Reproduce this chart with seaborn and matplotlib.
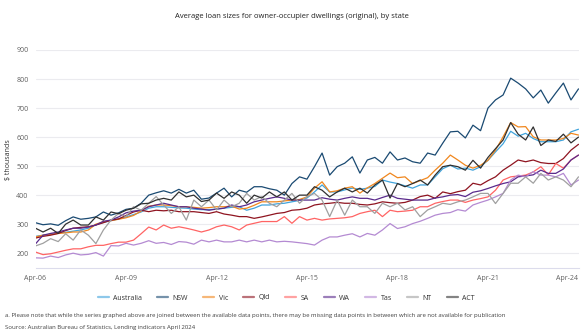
import matplotlib
matplotlib.use("Agg")
import matplotlib.pyplot as plt
import matplotlib.dates as mdates
import seaborn as sns
import pandas as pd

# Quarterly observations, Apr-2006 to Apr-2024 ($ thousands)
dates = pd.date_range("2006-04-01", periods=73, freq="3MS")

australia = [258, 262, 265, 270, 272, 276, 280, 286, 298, 306, 312, 318,
             325, 333, 342, 355, 360, 360, 358, 356, 355, 352, 350, 350,
             352, 355, 358, 360, 348, 355, 366, 366, 370, 372, 377, 382,
             390, 411, 435, 411, 411, 418, 424, 420, 424, 430, 452, 445,
             440, 432, 424, 435, 435, 463, 491, 503, 490, 493, 486, 498,
             520, 549, 577, 620, 603, 613, 595, 584, 584, 584, 590, 618, 627]
nsw = [305, 298, 301, 296, 312, 325, 317, 320, 325, 342, 331, 339,
       351, 355, 372, 400, 408, 415, 407, 420, 407, 417, 386, 390,
       407, 424, 394, 417, 410, 429, 429, 422, 417, 400, 440, 463,
       455, 498, 545, 469, 498, 510, 532, 476, 521, 530, 510, 549,
       521, 528, 515, 510, 545, 538, 579, 618, 620, 597, 641, 622,
       700, 728, 745, 803, 786, 766, 735, 762, 717, 752, 786, 728, 766]
vic = [256, 262, 265, 268, 270, 273, 273, 280, 300, 308, 312, 317,
       322, 330, 345, 362, 366, 366, 364, 360, 360, 358, 355, 357,
       360, 360, 362, 352, 355, 365, 377, 377, 377, 380, 383, 385,
       394, 424, 446, 411, 415, 424, 429, 407, 425, 440, 458, 476,
       460, 463, 440, 450, 460, 486, 510, 538, 521, 503, 493, 503,
       520, 555, 601, 650, 635, 636, 601, 590, 590, 590, 595, 613, 607]
qld = [252, 258, 262, 268, 278, 286, 289, 291, 297, 305, 314, 318,
       330, 342, 348, 343, 348, 346, 348, 343, 343, 343, 340, 337,
       343, 335, 331, 326, 326, 320, 325, 331, 337, 340, 348, 350,
       355, 366, 370, 372, 375, 372, 372, 368, 366, 370, 377, 374,
       372, 375, 383, 395, 400, 389, 411, 405, 412, 417, 441, 435,
       450, 463, 486, 503, 521, 515, 521, 512, 509, 509, 526, 555, 575]
sa = [204, 195, 198, 204, 210, 215, 215, 222, 227, 227, 233, 238,
      238, 245, 267, 290, 280, 297, 286, 291, 286, 280, 273, 280,
      291, 297, 291, 280, 297, 303, 309, 309, 309, 326, 303, 326,
      314, 320, 314, 318, 320, 322, 326, 337, 343, 348, 326, 348,
      343, 345, 348, 360, 360, 372, 378, 383, 383, 375, 383, 388,
      394, 417, 452, 463, 466, 469, 480, 498, 470, 509, 493, 521, 538]
wa = [232, 262, 268, 273, 280, 286, 286, 290, 297, 310, 314, 325,
      339, 345, 348, 360, 366, 372, 366, 360, 360, 355, 352, 348,
      352, 355, 366, 360, 366, 377, 383, 389, 394, 389, 383, 383,
      383, 383, 391, 386, 383, 389, 394, 389, 389, 383, 392, 400,
      389, 386, 383, 383, 383, 390, 394, 400, 402, 395, 410, 415,
      423, 432, 440, 446, 463, 466, 470, 486, 475, 475, 490, 521, 538]
tas = [184, 183, 190, 185, 194, 200, 194, 196, 202, 190, 226, 225,
       234, 228, 234, 243, 234, 237, 230, 240, 238, 231, 245, 239,
       245, 239, 239, 245, 239, 245, 239, 245, 239, 241, 239, 236,
       233, 228, 245, 256, 256, 262, 267, 256, 268, 262, 280, 302,
       285, 291, 302, 310, 320, 331, 337, 340, 350, 345, 366, 375,
       383, 394, 406, 452, 469, 463, 481, 469, 469, 463, 475, 435, 452]
nt = [225, 234, 250, 240, 267, 245, 280, 262, 233, 280, 314, 337,
      326, 360, 348, 372, 395, 366, 337, 360, 314, 383, 360, 383,
      349, 383, 360, 372, 406, 383, 395, 372, 360, 383, 406, 372,
      395, 406, 383, 326, 383, 331, 383, 360, 360, 337, 372, 360,
      372, 349, 360, 326, 349, 360, 372, 368, 377, 383, 394, 406,
      406, 371, 406, 441, 441, 463, 441, 475, 452, 463, 452, 429, 463]
act = [286, 273, 286, 268, 300, 314, 297, 297, 325, 314, 342, 336,
       348, 355, 370, 372, 383, 389, 383, 411, 394, 400, 378, 383,
       407, 389, 411, 400, 372, 400, 390, 411, 394, 411, 383, 400,
       400, 429, 417, 394, 411, 424, 411, 424, 407, 435, 452, 390,
       440, 429, 440, 452, 435, 469, 498, 503, 498, 486, 520, 493,
       530, 560, 590, 650, 610, 590, 635, 571, 590, 585, 610, 580, 600]

states = ["Australia", "NSW", "Vic", "Qld", "SA", "WA", "Tas", "NT", "ACT"]
series = [australia, nsw, vic, qld, sa, wa, tas, nt, act]
colors = ["#41a4dc", "#1a4a72", "#f0871e", "#8f1420", "#ff6464",
          "#5a2a8c", "#b48ad2", "#a0a0a0", "#303030"]
y_ticks = [200, 300, 400, 500, 600, 700, 800, 900]
x_ticks = ["2006-04-01", "2009-04-01", "2012-04-01", "2015-04-01",
           "2018-04-01", "2021-04-01", "2024-04-01"]

frames = [pd.DataFrame({"date": dates, "value": v, "state": s})
          for s, v in zip(states, series)]
df = pd.concat(frames, ignore_index=True)

sns.set_theme(style="white")
plt.rcParams["font.family"] = ["Open Sans", "DejaVu Sans"]

fig = plt.figure(figsize=(5.84, 3.33), dpi=100)
ax = fig.add_axes([35.5 / 584, 1 - 267.7 / 333, 543 / 584, 217.7 / 333])

palette = dict(zip(states, colors))
sns.lineplot(data=df, x="date", y="value", hue="state", hue_order=states,
             palette=palette, linewidth=0.9, ax=ax, legend=False)

ax.set_ylim(150, 900)
ax.set_xlim(dates[0], dates[-1])
ax.set_yticks(y_ticks)
ax.set_xticks(pd.to_datetime(x_ticks))
ax.xaxis.set_major_formatter(mdates.DateFormatter("%b-%y"))
ax.grid(axis="y", color="#ebebef", linewidth=0.8)
ax.grid(axis="x", visible=False)
for side in ["top", "right", "left"]:
    ax.spines[side].set_visible(False)
ax.spines["bottom"].set_color("#dcdcec")
ax.spines["bottom"].set_linewidth(0.8)
ax.tick_params(axis="both", length=0, labelsize=5, labelcolor="#606060")
ax.tick_params(axis="y", pad=5)
ax.tick_params(axis="x", pad=5)
labels = ax.get_xticklabels()
labels[-1].set_horizontalalignment("right")
ax.set_xlabel("")
ax.set_ylabel("")

fig.text(9 / 584, 1 - 160 / 333, "$ thousands", rotation=90,
         ha="center", va="center", fontsize=5, color="#303030")
fig.text(0.5, 1 - 17 / 333, "Average loan sizes for owner-occupier dwellings (original), by state",
         ha="center", va="center", fontsize=5.5, color="#202020")

handles = [plt.Line2D([0], [0], color=c, lw=1.6, alpha=0.6) for c in colors]
fig.legend(handles, states, loc="center", bbox_to_anchor=(0.49, 1 - 298 / 333),
           ncol=9, frameon=False, fontsize=5, handlelength=1.6,
           handletextpad=0.6, columnspacing=2.2, labelcolor="#303030")

fig.text(5 / 584, 1 - 316 / 333,
         "a. Please note that while the series graphed above are joined between the available data points, "
         "there may be missing data points in between which are not available for publication",
         ha="left", va="center", fontsize=4.3, color="#404040")
fig.text(5 / 584, 1 - 328 / 333,
         "Source: Australian Bureau of Statistics, Lending indicators April 2024",
         ha="left", va="center", fontsize=4.3, color="#404040")

fig.savefig("out.png", dpi=100)
